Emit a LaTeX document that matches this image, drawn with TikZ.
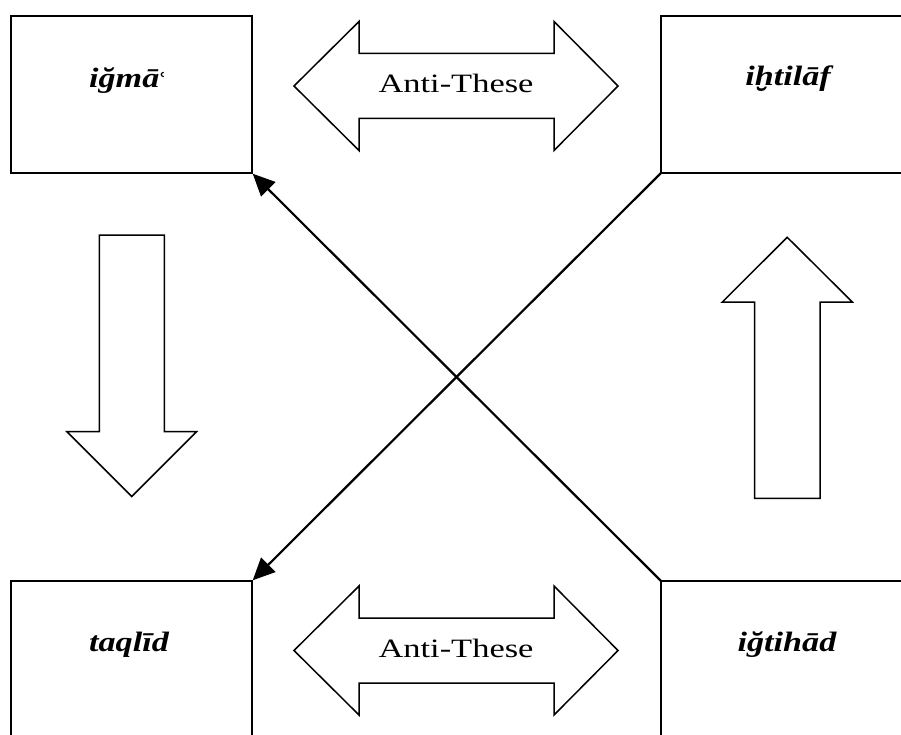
\documentclass[tikz,border=0pt]{standalone}
\usepackage{fontspec}
\usepackage{graphicx}
\setmainfont{Liberation Serif}
\newfontfamily\aynfont{DejaVu Serif}
\usetikzlibrary{arrows.meta}
\newcommand{\hstretch}[1]{\scalebox{1.3}[1]{#1}}
\newcommand{\tstretch}[1]{\scalebox{1.22}[1]{#1}}
\tikzset{
  box/.style={draw, line width=2pt, rectangle, minimum width=241pt, minimum height=157pt, inner sep=0pt, outer sep=0pt, anchor=north west},
  widebox/.style={box, minimum width=260pt},
  term/.style={font=\fontsize{28}{28}\selectfont\bfseries\itshape, anchor=base, inner sep=0pt},
  anti/.style={font=\fontsize{26.5}{26.5}\selectfont, anchor=base, inner sep=0pt},
  blockarrow/.style={draw, line width=1.5pt, line join=miter, fill=white},
  link/.style={line width=2.2pt, -{Triangle[length=22pt,width=20pt]}, shorten >=1pt}
}
\begin{document}
\begin{tikzpicture}[x=1pt, y=-1pt]
\useasboundingbox (0,0) rectangle (901,735);
\clip (0,0) rectangle (901,735);
\fill[white] (0,0) rectangle (901,735);

% boxes
\node[box] (tl) at (11,16) {};
\node[widebox] (tr) at (661,16) {};
\node[box] (bl) at (11,581) {};
\node[widebox] (br) at (661,581) {};

% box labels
\node[term] (tlt) at (128,88) {\tstretch{iğmā{\aynfont\mdseries\upshape\fontsize{20}{20}\selectfont ʿ}}};
\node[term] (trt) at (788,86) {\tstretch{iḫtilāf}};
\node[term] (blt) at (129,651) {\tstretch{taqlīd}};
\node[term] (brt) at (787,651) {\tstretch{iğtihād}};

% double arrows (Anti-These)
\draw[blockarrow] (294,86) -- (359,21.5) -- (359,53.5) -- (554,53.5) -- (554,21.5) -- (618,86)
  -- (554,150.5) -- (554,118.5) -- (359,118.5) -- (359,150.5) -- cycle;
\node[anti] (at1) at (456,92.5) {\hstretch{Anti-These}};

\draw[blockarrow] (294,650.5) -- (359,586) -- (359,618) -- (554,618) -- (554,586) -- (618,650.5)
  -- (554,715) -- (554,683) -- (359,683) -- (359,715) -- cycle;
\node[anti] (at2) at (456,657) {\hstretch{Anti-These}};

% down arrow (left)
\draw[blockarrow] (99.3,235) -- (164.3,235) -- (164.3,431.5) -- (196.7,431.5) -- (131.8,496.5)
  -- (66.8,431.5) -- (99.3,431.5) -- cycle;

% up arrow (right)
\draw[blockarrow] (754.5,498.3) -- (820,498.3) -- (820,302) -- (852.3,302) -- (787.2,237.3)
  -- (722.3,302) -- (754.5,302) -- cycle;

% diagonal connectors
\draw[link] (br.north west) -- (tl.south east);
\draw[link] (tr.south west) -- (bl.north east);
\end{tikzpicture}
\end{document}
